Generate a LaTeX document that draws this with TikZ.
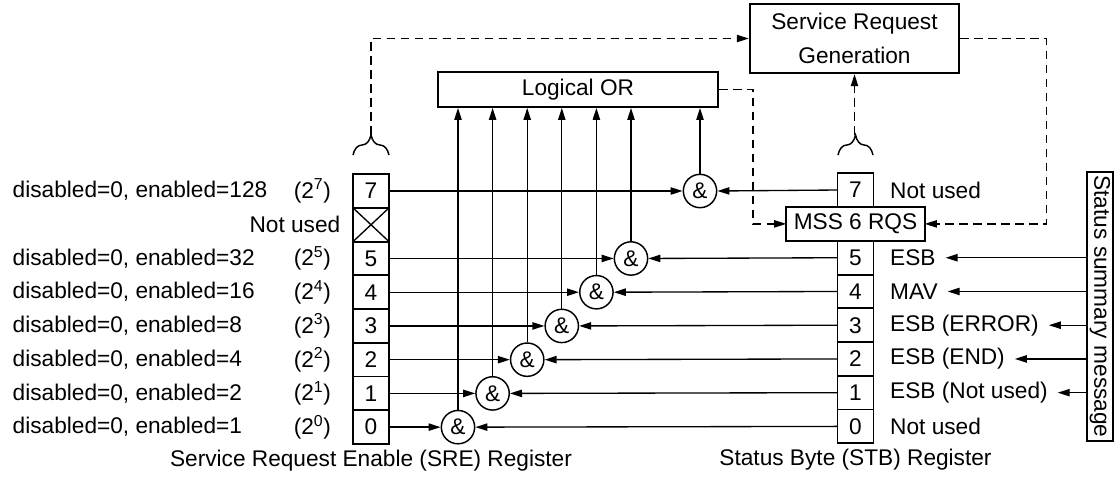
\documentclass[tikz,border=0pt]{standalone}
\usepackage{amsmath}
\usepackage{xcolor}
\usepackage{graphicx}
\usepackage{fontspec}
\setmainfont{Liberation Sans}
\usetikzlibrary{shapes.geometric, arrows.meta, positioning, decorations.pathreplacing}
\tikzstyle{arrow} = [line width=1pt,->,>={Stealth[length=9pt,width=5.5pt,inset=0pt]}]
\tikzstyle{dasharrow} = [arrow, dash pattern=on 6.5pt off 4pt]

\begin{document}
\begin{tikzpicture}[x=0.75pt, y=-0.75pt, font=\fontsize{17}{20}\selectfont]
	% Define styles for the registers, gates and blocks
	\tikzstyle{bit} = [rectangle, draw, line width=1.4pt, minimum width=27pt, minimum height=25.3pt, inner sep=0pt, outer sep=0pt]
	\tikzstyle{block} = [rectangle, draw, line width=1.6pt, inner sep=0pt]
	\tikzstyle{gate} = [circle, draw, line width=1.1pt, minimum size=25pt, inner sep=0pt]
	\tikzstyle{bracket} = [decorate, decoration={brace, amplitude=15pt}, line width=1.1pt]
	\useasboundingbox (0,0) rectangle (1115,476);
	
	% Service request enable register
	\node[bit] (sre7) at (371,191) {7};
	\node[bit, below=0pt of sre7] (srex) {};
	\draw[line width=1pt] (srex.north west) -- (srex.south east) (srex.south west) -- (srex.north east);
	\foreach \b [remember=\b as \prev (initially x)] in {5,...,0}
		\node[bit, below=0pt of sre\prev] (sre\b) {\b};
	
	% Weights of the enable bits
	\node[anchor=west] at (8,0 |- sre7) {disabled=0, enabled=128};
	\node[left=13pt of sre7] {(2\textsuperscript{7})};
	\node[left=6pt of srex] {Not used};
	\foreach \b/\v in {5/32,4/16,3/8,2/4,1/2,0/1} {
		\node[anchor=west] at (8,0 |- sre\b) {disabled=0, enabled=\v};
		\node[left=13pt of sre\b] {(2\textsuperscript{\b})};
	}
	\node[below=1pt of sre0] (srename) {Service Request Enable (SRE) Register};
	
	% Status byte register
	\node[bit] (stb7) at (855.5,190) {7};
	\node[bit, below=0pt of stb7, minimum width=104pt, minimum height=25.5pt] (mss) {MSS 6 RQS};
	\node[bit, below=0pt of mss] (stb5) {5};
	\foreach \b [remember=\b as \prev (initially 5)] in {4,...,0}
		\node[bit, below=0pt of stb\prev] (stb\b) {\b};
	\node[right=9pt of stb7] {Not used};
	\foreach \b/\t in {5/ESB,4/MAV,3/ESB (ERROR),2/ESB (END),1/ESB (Not used),0/Not used}
		\node[right=9pt of stb\b] (lab\b) {\t};
	\node[below=1pt of stb0] (stbname) {Status Byte (STB) Register};
	
	% Status summary message
	\node[block, line width=1.4pt, minimum width=19.5pt, minimum height=202pt] (ssm) at (1100,306.5) {\rotatebox{-90}{Status summary message}};
	\foreach \b in {5,...,1}
		\draw[arrow, shorten >=4pt] (ssm.west |- lab\b) -- (lab\b.east);
	
	% AND gates
	\node[gate] (and7) at (700,0 |- sre7) {\&};
	\foreach \b [evaluate=\b as \gx using 458+34.6*\b] in {0,...,5}
		\node[gate] (and\b) at (\gx,0 |- sre\b) {\&};
	
	% Logical OR and service request generation
	\node[block, minimum width=210pt, minimum height=26pt] (or) at (578,89.5) {Logical OR};
	\node[block, minimum width=157pt, minimum height=52pt, align=center, font=\fontsize{17}{25}\selectfont] (srg) at (854.5,38.5) {Service Request\\Generation};
	
	% Connections through the gates
	\foreach \b in {7,5,4,3,2,1,0} {
		\draw[arrow] (sre\b.east) -- (and\b.west);
		\draw[arrow] (stb\b.west) -- (and\b.east);
		\draw[arrow] (and\b.north) -- (and\b.north |- or.south);
	}
	
	% Brackets and service request paths
	\draw[bracket] (353,155) -- (389,155);
	\draw[bracket] (838,155) -- (873,155);
	\coordinate (sretip) at (371,135);
	\coordinate (stbtip) at (854.5,135);
	\draw[dasharrow] (sretip) |- (srg.west);
	\draw[dasharrow] (stbtip) -- (stbtip |- srg.south);
	\draw[dasharrow] (or.east) -- ++(34,0) |- (mss.west);
	\draw[dasharrow] (srg.east) -- ++(86,0) |- (mss.east);
\end{tikzpicture}
\end{document}
